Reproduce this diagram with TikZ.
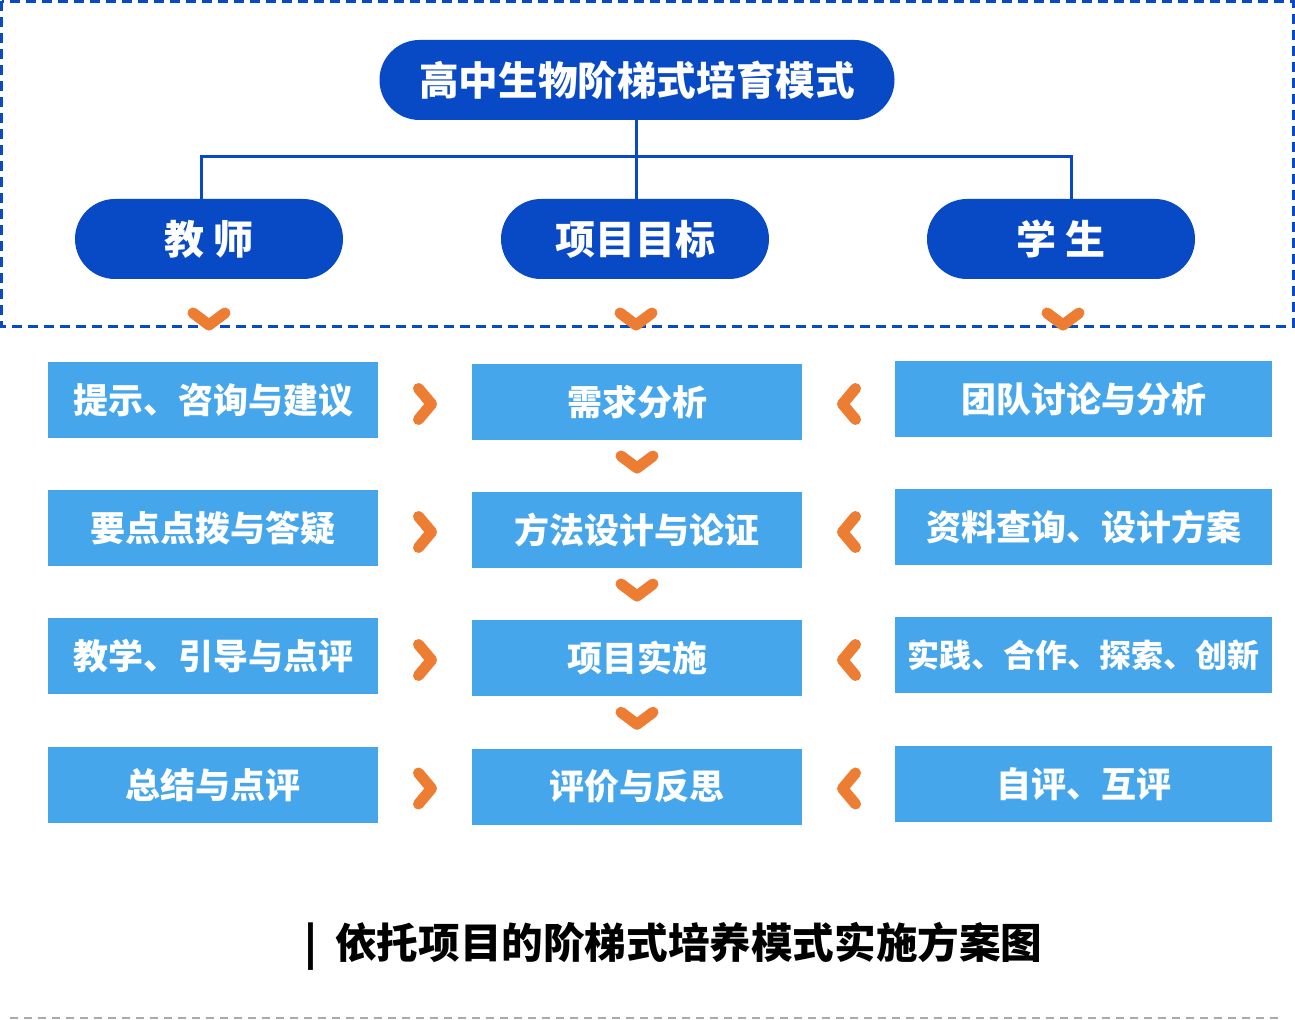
\documentclass[tikz,border=0pt]{standalone}
\usepackage{fontspec}
\setmainfont{Noto Sans CJK SC}
\usetikzlibrary{calc}
\definecolor{dblue}{HTML}{0849C6}
\definecolor{lblue}{HTML}{45A6EB}
\definecolor{orng}{HTML}{EC7D32}
\definecolor{lgray}{HTML}{AAAAAA}
\begin{document}
\begin{tikzpicture}[x=0.5pt,y=-0.5pt,
  pill/.style={fill=dblue, text=white, font=\bfseries\fontsize{20}{20}\selectfont,
    minimum width=134pt, minimum height=40pt, rounded corners=20pt, inner sep=0pt},
  titlepill/.style={pill, minimum width=257.5pt, font=\bfseries\fontsize{19.8}{19.8}\selectfont},
  sbox/.style={fill=lblue, text=white, font=\bfseries\fontsize{17.5}{17.5}\selectfont,
    minimum height=38pt, inner sep=0pt},
  lbox/.style={sbox, minimum width=165pt},
  cbox/.style={sbox, minimum width=165pt},
  rbox/.style={sbox, minimum width=188.5pt},
  conn/.style={draw=dblue, line width=1.5pt},
  chev/.style={draw=orng, line width=5.5pt, line cap=round, line join=round},
  chevdown/.pic={\draw[chev] (-16,-6) -- (0,6) -- (16,-6);},
  chevright/.pic={\draw[chev] (-6.5,-15.5) -- (6.5,0) -- (-6.5,15.5);},
  chevleft/.pic={\draw[chev] (6.5,-15.5) -- (-6.5,0) -- (6.5,15.5);}
]
\fill[white] (0,0) rectangle (1295,1020);
\useasboundingbox (0,0) rectangle (1295,1020);

% dashed frame
\draw[dblue, line width=1.5pt, dash pattern=on 5pt off 3pt] (1.5,1.5) rectangle (1293,327);
% bottom grey rule
\draw[lgray, line width=1pt, dash pattern=on 4pt off 3pt] (10,1018) -- (1282,1018);

% top tree
\node[titlepill] (title) at (637,80) {高中生物阶梯式培育模式};
\node[pill] (teacher) at (209,239) {教 师};
\node[pill] (goal) at (635,239) {项目目标};
\node[pill] (student) at (1061,239) {学 生};
\coordinate (bar) at (636,157);
\draw[conn] (title.south -| bar) -- (goal.north -| bar);
\draw[conn] (teacher.north -| 201,0) |- (bar) -| (student.north -| 1071,0);

% left column
\node[lbox] (l1) at (213,400) {提示、咨询与建议};
\node[lbox] (l2) at (213,528) {要点点拨与答疑};
\node[lbox] (l3) at (213,656) {教学、引导与点评};
\node[lbox] (l4) at (213,785) {总结与点评};
% centre column
\node[cbox] (c1) at (637,402) {需求分析};
\node[cbox] (c2) at (637,530) {方法设计与论证};
\node[cbox] (c3) at (637,658) {项目实施};
\node[cbox] (c4) at (637,786.5) {评价与反思};
% right column
\node[rbox] (r1) at (1083.5,399.5) {团队讨论与分析};
\node[rbox] (r2) at (1083.5,527) {资料查询、设计方案};
\node[rbox, font=\bfseries\fontsize{16}{16}\selectfont] (r3) at (1083.5,655) {实践、合作、探索、创新};
\node[rbox] (r4) at (1083.5,784) {自评、互评};

% chevrons under the pills
\pic at (209,319) {chevdown};
\pic at (636,319) {chevdown};
\pic at (1063,319) {chevdown};
% chevrons between centre boxes
\pic at ($(c1.south)!0.5!(c2.north)+(0,-4)$) {chevdown};
\pic at ($(c2.south)!0.5!(c3.north)+(0,-4)$) {chevdown};
\pic at ($(c3.south)!0.5!(c4.north)+(0,-4)$) {chevdown};
% side chevrons
\foreach \i in {1,2,3,4}{
  \pic at ($(c\i.west -| 425,0)+(0,2)$) {chevright};
  \pic at ($(c\i.east -| 849,0)+(0,2)$) {chevleft};
}

% caption
\node[font=\bfseries\fontsize{20.8}{20.8}\selectfont, anchor=west, inner sep=0pt] (cap) at (304,946) {|\hspace{9pt}依托项目的阶梯式培养模式实施方案图};
\end{tikzpicture}
\end{document}
